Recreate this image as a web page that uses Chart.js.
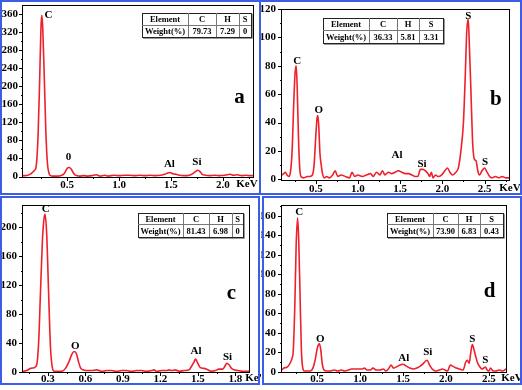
<!DOCTYPE html>
<html><head><meta charset="utf-8">
<script src="https://cdn.jsdelivr.net/npm/chart.js@4.4.1/dist/chart.umd.min.js"></script>
<style>
html,body{margin:0;padding:0;background:#fff;}
body{width:522px;height:390px;position:relative;overflow:hidden;}
canvas{position:absolute;}
.bx{position:absolute;border:2px solid #3c5ee6;box-sizing:border-box;pointer-events:none;}
</style></head><body>
<canvas id="ca" width="261" height="195" style="left:0;top:0"></canvas>
<canvas id="cb" width="261" height="195" style="left:261px;top:0"></canvas>
<canvas id="cc" width="261" height="195" style="left:0;top:195px"></canvas>
<canvas id="cd" width="261" height="195" style="left:261px;top:195px"></canvas>
<div class="bx" style="left:0;top:0;width:261px;height:195px"></div>
<div class="bx" style="left:259px;top:0;width:263px;height:195px"></div>
<div class="bx" style="left:0;top:196px;width:260px;height:189px"></div>
<div class="bx" style="left:262px;top:196px;width:260px;height:189px"></div>
<script>
// ---------- data (energy in keV, intensity in counts) ----------
const A_KEV = [0.075,0.10,0.12,0.15,0.17,0.19,0.20,0.22,0.235,0.248,0.256,0.265,0.28,0.295,0.31,0.325,0.34,0.36,0.40,0.44,0.47,0.49,0.505,0.52,0.54,0.56,0.58,0.62,0.66,0.70,0.74,0.78,0.82,0.86,0.90,0.95,1.00,1.05,1.10,1.15,1.20,1.25,1.30,1.35,1.40,1.44,1.47,1.49,1.52,1.55,1.58,1.62,1.66,1.70,1.73,1.76,1.78,1.80,1.83,1.87,1.92,1.97,2.02,2.07,2.10,2.14,2.18,2.22,2.26,2.29];
const A_CPS = [2,2,3,6,10,15,20,90,210,330,357,330,220,100,30,8,2,1,1,2,6,14,19,20,16,8,3,1,2,1,2,4,1,3,1,3,2,3,3,2,3,2,3,2,3,5,8,9,6,5,3,2,2,5,10,14,11,5,3,2,3,2,3,5,3,4,2,3,2,2];

const B_KEV = [0.10,0.12,0.14,0.16,0.18,0.20,0.22,0.24,0.255,0.268,0.28,0.295,0.31,0.325,0.36,0.40,0.43,0.46,0.48,0.50,0.515,0.525,0.535,0.55,0.565,0.58,0.60,0.63,0.66,0.70,0.73,0.76,0.80,0.85,0.90,0.93,0.96,1.00,1.05,1.10,1.15,1.18,1.22,1.26,1.29,1.32,1.36,1.40,1.44,1.48,1.52,1.56,1.60,1.64,1.68,1.71,1.74,1.77,1.80,1.83,1.85,1.87,1.89,1.92,1.95,1.99,2.03,2.06,2.09,2.12,2.16,2.19,2.22,2.25,2.27,2.29,2.307,2.32,2.34,2.36,2.38,2.40,2.42,2.44,2.47,2.50,2.53,2.56,2.59,2.63,2.67,2.71,2.75,2.79];
const B_CPS = [3,4,5,3,2,5,20,55,75,80,65,30,8,2,1,2,2,3,10,30,43,45,38,18,10,4,1,2,1,3,6,2,3,2,1,5,2,3,2,3,4,2,5,3,6,3,5,4,5,6,5,4,4,3,2,2,7,7,6,4,2,5,1,3,2,3,6,8,5,3,5,8,20,40,70,105,113,95,60,25,14,13,6,3,6,8,5,2,1,2,1,2,1,1];

const C_KEV = [0.10,0.13,0.16,0.19,0.21,0.225,0.24,0.255,0.268,0.277,0.29,0.305,0.32,0.335,0.35,0.38,0.41,0.44,0.47,0.49,0.505,0.517,0.53,0.545,0.56,0.58,0.61,0.65,0.69,0.73,0.77,0.81,0.85,0.89,0.93,0.97,1.01,1.05,1.09,1.13,1.15,1.17,1.21,1.25,1.27,1.29,1.32,1.35,1.39,1.43,1.45,1.47,1.482,1.50,1.52,1.55,1.58,1.61,1.64,1.67,1.70,1.72,1.73,1.75,1.77,1.79,1.82,1.86,1.91];
const C_CPS = [1,2,5,6,10,40,110,180,212,218,190,110,35,6,1,1,1,5,15,24,28,28,24,14,6,3,2,2,3,1,2,2,1,2,2,1,2,2,1,2,3,1,2,2,3,2,3,1,2,3,8,14,18,12,6,5,3,1,2,4,4,9,12,10,5,3,2,1,1];

const D_KEV = [0.09,0.11,0.15,0.19,0.21,0.22,0.24,0.255,0.272,0.285,0.30,0.315,0.33,0.35,0.38,0.42,0.45,0.48,0.50,0.515,0.525,0.54,0.56,0.58,0.61,0.65,0.70,0.74,0.78,0.82,0.86,0.90,0.94,0.98,1.02,1.05,1.08,1.12,1.15,1.19,1.23,1.27,1.30,1.33,1.36,1.39,1.42,1.46,1.50,1.54,1.58,1.62,1.66,1.70,1.73,1.76,1.78,1.81,1.84,1.88,1.92,1.96,1.99,2.02,2.05,2.08,2.12,2.16,2.20,2.23,2.25,2.27,2.29,2.307,2.33,2.35,2.37,2.39,2.42,2.44,2.46,2.48,2.50,2.52,2.55,2.58,2.62,2.66,2.70];
const D_CPS = [2,4,5,10,15,20,70,130,158,135,80,25,5,1,1,1,4,14,24,28,29,24,8,2,1,1,2,1,2,1,2,3,3,3,3,4,2,2,4,2,2,3,1,3,7,4,5,7,8,6,4,3,4,6,8,11,12,7,3,1,2,3,2,1,7,6,4,3,2,10,12,9,20,28,22,15,9,6,3,4,5,2,1,4,1,1,2,1,3];

// ---------- tick values ----------
const A_XTICKS = [0.5,1.0,1.5,2.0];            const A_XMINOR = [0.25,0.75,1.25,1.75,2.25];
const A_YTICKS = [0,40,80,120,160,200,240,280,320,360]; const A_YMINOR = [20,60,100,140,180,220,260,300,340];
const B_XTICKS = [0.5,1.0,1.5,2.0,2.5];        const B_XMINOR = [0.25,0.75,1.25,1.75,2.25,2.75];
const B_YTICKS = [0,20,40,60,80,100,120];      const B_YMINOR = [10,30,50,70,90,110];
const C_XTICKS = [0.3,0.6,0.9,1.2,1.5,1.8];    const C_XMINOR = [0.15,0.45,0.75,1.05,1.35,1.65];
const C_YTICKS = [0,40,80,120,160,200];        const C_YMINOR = [20,60,100,140,180,220];
const D_XTICKS = [0.5,1.0,1.5,2.0,2.5];        const D_XMINOR = [0.25,0.75,1.25,1.75,2.25];
const D_YTICKS = [0,20,40,60,80,100,120,140,160]; const D_YMINOR = [10,30,50,70,90,110,130,150,170];

// ---------- peak labels (element, keV, counts) ----------
const A_PEAKS = [['C',0.32,358],['0',0.513,44],['Al',1.485,27],['Si',1.75,31]];
const B_PEAKS = [['C',0.28,83],['O',0.537,49],['Al',1.463,17],['Si',1.759,11],['S',2.307,115],['S',2.505,12]];
const C_PEAKS = [['C',0.282,225],['O',0.519,36],['Al',1.485,29],['Si',1.738,21]];
const D_PEAKS = [['C',0.291,164],['O',0.536,34],['Al',1.509,14],['Si',1.789,20],['S',2.306,34],['S',2.458,12]];

// ---------- composition tables ----------
const TABLE_HEAD = ['Element','C','H','S'];
const A_WEIGHT = ['Weight(%)','79.73','7.29','0'];
const B_WEIGHT = ['Weight(%)','36.33','5.81','3.31'];
const C_WEIGHT = ['Weight(%)','81.43','6.98','0'];
const D_WEIGHT = ['Weight(%)','73.90','6.83','0.43'];

const RED = '#f0202a';
const SERIF = '"Liberation Serif","Times New Roman",serif';

function makeDeco(o){
  return {
    id:'deco',
    afterDraw(chart){
      const ctx = chart.ctx, xs = chart.scales.x, ys = chart.scales.y;
      const {left, top, right, bottom} = chart.chartArea;
      ctx.save();
      ctx.strokeStyle = '#000'; ctx.lineWidth = 1;
      ctx.strokeRect(left - 0.5, top + 0.5, right - left + 1, bottom - top);
      // ticks
      ctx.beginPath();
      o.yticks.forEach(v => { const p = Math.round(ys.getPixelForValue(v)) + 0.5; ctx.moveTo(left - 4, p); ctx.lineTo(left, p); });
      o.yminor.forEach(v => { if (v > ys.max) return; const p = Math.round(ys.getPixelForValue(v)) + 0.5; ctx.moveTo(left - 2, p); ctx.lineTo(left, p); });
      o.xticks.forEach(v => { const p = Math.round(xs.getPixelForValue(v)) + 0.5; ctx.moveTo(p, bottom); ctx.lineTo(p, bottom + 4); });
      o.xminor.forEach(v => { if (v > xs.max) return; const p = Math.round(xs.getPixelForValue(v)) + 0.5; ctx.moveTo(p, bottom); ctx.lineTo(p, bottom + 2); });
      ctx.stroke();
      // peak labels
      ctx.fillStyle = '#000'; ctx.textAlign = 'center'; ctx.textBaseline = 'middle';
      ctx.font = 'bold 11px ' + SERIF;
      o.peaks.forEach(([t, x, y]) => ctx.fillText(t, xs.getPixelForValue(x), ys.getPixelForValue(y)));
      // panel letter
      ctx.font = 'bold 21px ' + SERIF;
      ctx.fillText(o.letter[0], xs.getPixelForValue(o.letter[1]), ys.getPixelForValue(o.letter[2]));
      // KeV
      ctx.font = 'bold 11px ' + SERIF;
      ctx.fillText('KeV', o.kev[0], o.kev[1]);
      // table
      const tb = o.table;
      ctx.fillStyle = '#fff';
      ctx.fillRect(tb.x0, tb.y0, tb.x1 - tb.x0, tb.y1 - tb.y0);
      ctx.strokeStyle = '#222'; ctx.lineWidth = 1;
      ctx.strokeRect(tb.x0 + 0.5, tb.y0 + 0.5, tb.x1 - tb.x0, tb.y1 - tb.y0);
      ctx.strokeStyle = '#999';
      ctx.beginPath();
      ctx.moveTo(tb.x0 + 1, tb.y1 + 1.5); ctx.lineTo(tb.x1 + 1.5, tb.y1 + 1.5); ctx.lineTo(tb.x1 + 1.5, tb.y0 + 1);
      ctx.stroke();
      ctx.strokeStyle = '#777';
      ctx.beginPath();
      ctx.moveTo(tb.x0, tb.ym + 0.5); ctx.lineTo(tb.x1, tb.ym + 0.5);
      tb.cols.forEach(c => { ctx.moveTo(c + 0.5, tb.y0); ctx.lineTo(c + 0.5, tb.y1); });
      ctx.stroke();
      ctx.fillStyle = '#000';
      ctx.font = 'bold 8.5px ' + SERIF;
      const edges = [tb.x0, ...tb.cols, tb.x1];
      for (let i = 0; i < 4; i++) {
        const cx = (edges[i] + edges[i + 1]) / 2;
        ctx.fillText(TABLE_HEAD[i], cx, (tb.y0 + tb.ym) / 2 + 1);
        ctx.fillText(o.weight[i], cx, (tb.ym + tb.y1) / 2 + 1);
      }
      ctx.restore();
    }
  };
}

function panel(id, o){
  const W = 261, H = 195;
  new Chart(document.getElementById(id), {
    type: 'line',
    data: { datasets: [{
      data: o.x.map((x, i) => ({x: x, y: o.y[i]})),
      borderColor: RED, borderWidth: 1.6, pointRadius: 0, fill: false,
      cubicInterpolationMode: 'monotone'
    }]},
    options: {
      responsive: false, animation: false, events: [],
      layout: { padding: { left: 0, top: o.area.t, right: W - o.area.r, bottom: 0 } },
      plugins: { legend: { display: false }, tooltip: { enabled: false } },
      scales: {
        x: {
          type: 'linear', min: o.xmin, max: o.xmax,
          grid: { display: false, drawTicks: false }, border: { display: false },
          afterBuildTicks: s => { s.ticks = o.xticks.map(v => ({value: v})); },
          afterFit: s => { s.height = H - o.area.b; s.paddingLeft = 0; s.paddingRight = 0; },
          ticks: { color: '#000', font: { family: SERIF, size: 11, weight: 'bold' }, padding: o.xpad,
                   maxRotation: 0, autoSkip: false, callback: v => Number(v).toFixed(1) }
        },
        y: {
          type: 'linear', min: o.ymin, max: o.ymax,
          grid: { display: false, drawTicks: false }, border: { display: false },
          afterBuildTicks: s => { s.ticks = o.yticks.map(v => ({value: v})); },
          afterFit: s => { s.width = o.area.l; s.paddingTop = 0; s.paddingBottom = 0; },
          ticks: { color: '#000', font: { family: SERIF, size: 11, weight: 'bold' }, padding: o.ypad,
                   autoSkip: false, callback: v => String(v) }
        }
      }
    },
    plugins: [makeDeco(o)]
  });
}

panel('ca', { x: A_KEV, y: A_CPS, xmin: 0.075, xmax: 2.29, ymin: -1, ymax: 380,
  area: {l: 23, t: 5, r: 253, b: 177}, xpad: 2, ypad: 5,
  xticks: A_XTICKS, xminor: A_XMINOR, yticks: A_YTICKS, yminor: A_YMINOR,
  peaks: A_PEAKS, letter: ['a', 2.16, 175], kev: [247, 184.5], weight: A_WEIGHT,
  table: {x0: 142, y0: 13, x1: 251, y1: 37, ym: 25, cols: [188, 216, 239]} });

panel('cb', { x: B_KEV, y: B_CPS, xmin: 0.10, xmax: 2.79, ymin: -0.5, ymax: 120,
  area: {l: 21, t: 9, r: 248, b: 180}, xpad: 3, ypad: 6,
  xticks: B_XTICKS, xminor: B_XMINOR, yticks: B_YTICKS, yminor: B_YMINOR,
  peaks: B_PEAKS, letter: ['b', 2.635, 56], kev: [249, 188], weight: B_WEIGHT,
  table: {x0: 62, y0: 18, x1: 182, y1: 43, ym: 30, cols: [108, 136, 158]} });

panel('cc', { x: C_KEV, y: C_CPS, xmin: 0.10, xmax: 1.91, ymin: 0, ymax: 231,
  area: {l: 23, t: 10, r: 249, b: 177}, xpad: 1, ypad: 6,
  xticks: C_XTICKS, xminor: C_XMINOR, yticks: C_YTICKS, yminor: C_YMINOR,
  peaks: C_PEAKS, letter: ['c', 1.77, 108], kev: [256, 183.5], weight: C_WEIGHT,
  table: {x0: 138, y0: 18, x1: 243, y1: 42, ym: 29, cols: [183, 209, 232]} });

panel('cd', { x: D_KEV, y: D_CPS, xmin: 0.09, xmax: 2.70, ymin: 0, ymax: 171,
  area: {l: 21, t: 10, r: 245, b: 177}, xpad: 1, ypad: 6,
  xticks: D_XTICKS, xminor: D_XMINOR, yticks: D_YTICKS, yminor: D_YMINOR,
  peaks: D_PEAKS, letter: ['d', 2.508, 82], kev: [251, 183.5], weight: D_WEIGHT,
  table: {x0: 126, y0: 18, x1: 242, y1: 42, ym: 29, cols: [172, 197, 219]} });
</script>
</body></html>
